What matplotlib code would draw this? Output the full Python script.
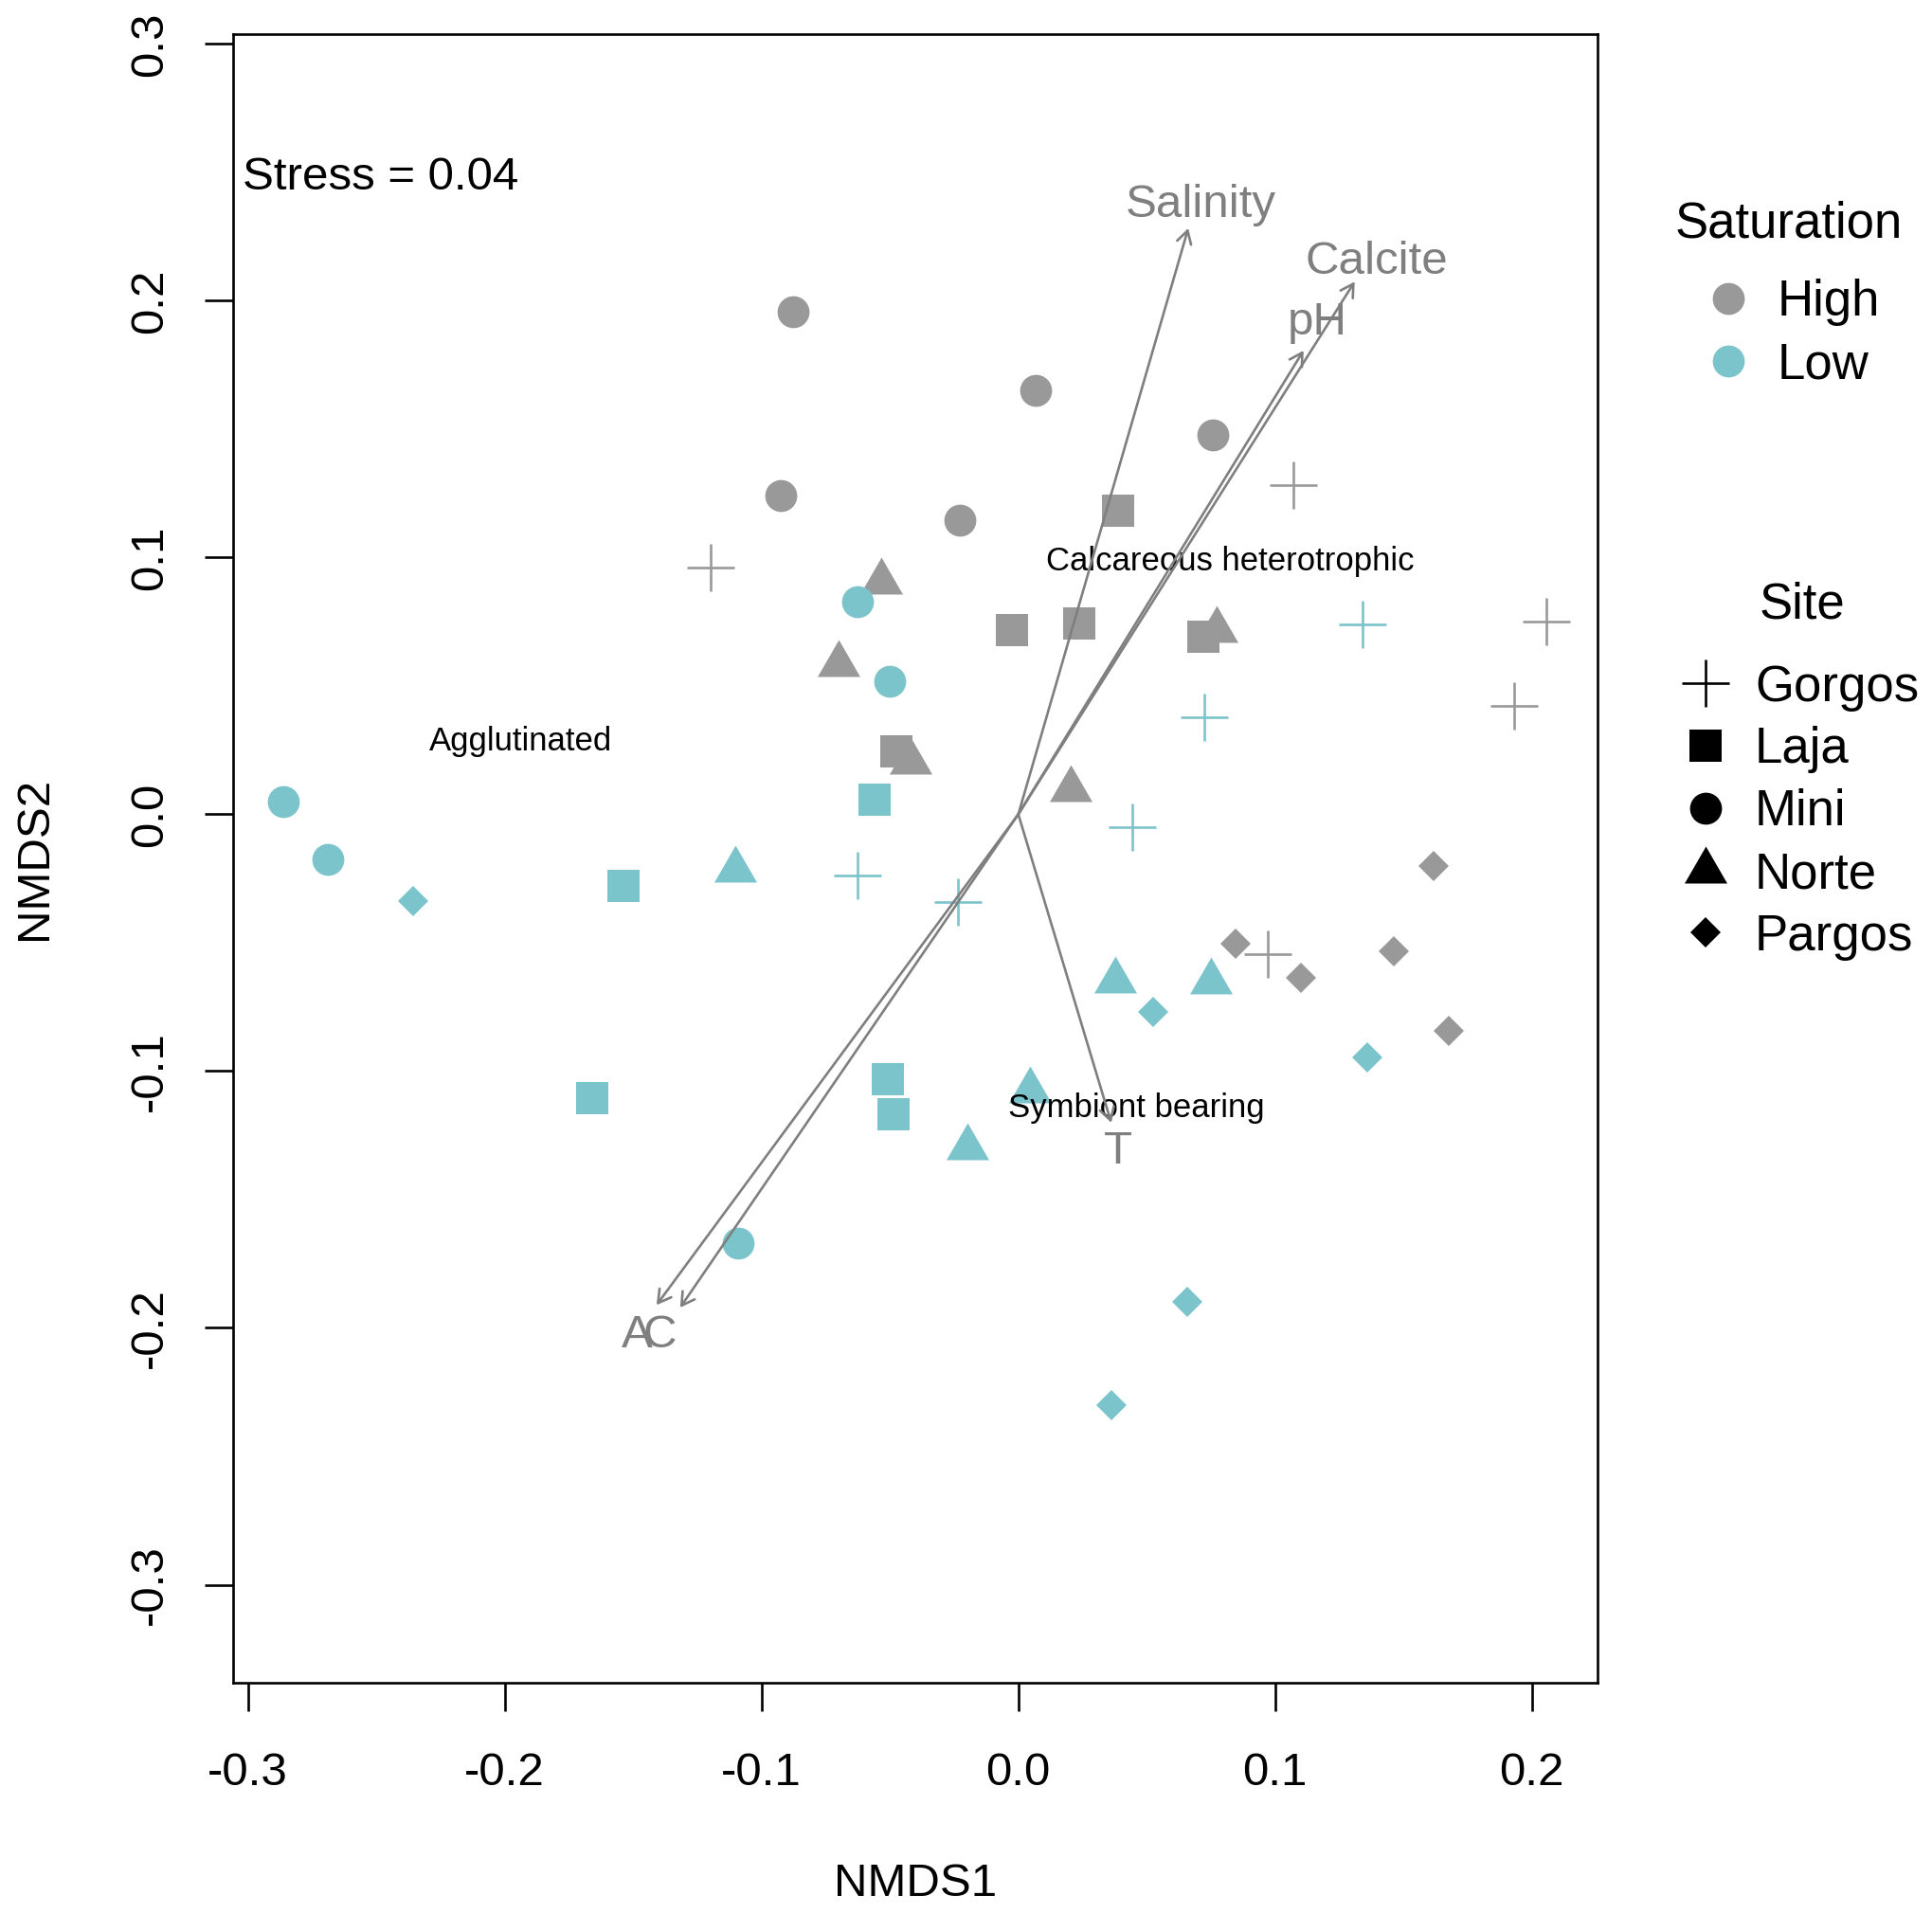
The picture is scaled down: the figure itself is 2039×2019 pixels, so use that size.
import matplotlib.pyplot as plt
from matplotlib.lines import Line2D

plt.rcParams['font.family'] = ['Liberation Sans', 'DejaVu Sans']
plt.rcParams['axes.unicode_minus'] = False

# NMDS site scores, high saturation samples
high_site = ['Mini'] * 5 + ['Norte'] * 5 + ['Laja'] * 5 + ['Gorgos'] * 5 + ['Pargos'] * 5
high_x = [-0.0876, -0.0927, -0.0227, 0.0066, 0.0759,
          -0.0533, -0.0699, -0.0421, 0.0203, 0.0771,
          0.0387, -0.0026, 0.0239, 0.0720, -0.0475,
          -0.1199, 0.1072, 0.2058, 0.1931, 0.0970,
          0.0845, 0.1100, 0.1462, 0.1616, 0.1676]
high_y = [0.1957, 0.1242, 0.1145, 0.1652, 0.1477,
          0.0906, 0.0586, 0.0206, 0.0099, 0.0719,
          0.1182, 0.0717, 0.0742, 0.0690, 0.0246,
          0.0962, 0.1283, 0.0750, 0.0423, -0.0544,
          -0.0504, -0.0638, -0.0534, -0.0203, -0.0842]

# low saturation samples
low_site = ['Mini'] * 5 + ['Laja'] * 5 + ['Norte'] * 5 + ['Gorgos'] * 5 + ['Pargos'] * 5
low_x = [-0.2861, -0.2688, -0.0627, -0.0499, -0.1090,
         -0.0559, -0.1536, -0.1659, -0.0510, -0.0485,
         -0.1103, 0.0378, 0.0752, 0.0044, -0.0197,
         0.1340, 0.0726, 0.0445, -0.0627, -0.0234,
         -0.2357, 0.0524, 0.1360, 0.0658, 0.0362]
low_y = [0.0049, -0.0175, 0.0827, 0.0517, -0.1669,
         0.0058, -0.0279, -0.1105, -0.1031, -0.1167,
         -0.0216, -0.0649, -0.0653, -0.1076, -0.1296,
         0.0739, 0.0378, -0.0049, -0.0240, -0.0342,
         -0.0338, -0.0770, -0.0946, -0.1899, -0.2300]

# envfit vectors
env_names = ['Salinity', 'Calcite', 'pH', 'T', 'A', 'C']
env_x = [0.0662, 0.1310, 0.1111, 0.0362, -0.1409, -0.1317]
env_y = [0.2282, 0.2074, 0.1806, -0.1201, -0.1911, -0.1921]
env_lab_x = [0.0709, 0.1397, 0.1165, 0.0390, -0.1484, -0.1396]
env_lab_y = [0.2326, 0.2106, 0.1868, -0.1361, -0.2075, -0.2075]

# functional group labels
grp_names = ['Agglutinated', 'Calcareous heterotrophic', 'Symbiont bearing']
grp_x = [-0.1937, 0.0826, 0.0460]
grp_y = [0.0249, 0.0950, -0.1180]

sites = ['Gorgos', 'Laja', 'Mini', 'Norte', 'Pargos']
sat_labels = ['High', 'Low']

GREY = '#999999'
CYAN = '#7CC4CC'
ARROW = '#7F7F7F'

# R style filled triangle (pch 17), centred on its centroid
tri = [(0, 1.5551), (1.3468, -0.7776), (-1.3468, -0.7776)]
mk = {'Gorgos': '+', 'Laja': 's', 'Mini': 'o', 'Norte': tri, 'Pargos': 'D'}
ms = {'Gorgos': 36, 'Laja': 24.3, 'Mini': 24.3, 'Norte': 37.4, 'Pargos': 16.8}


def mstyle(site, col):
    if site == 'Gorgos':
        return dict(marker='+', ms=ms[site], color=col, mew=1.9)
    return dict(marker=mk[site], ms=ms[site], color=col, mew=0)


fig = plt.figure(figsize=(20.4, 20.19), dpi=100)
ax = fig.add_axes([0.1206, 0.1206, 0.7059, 0.8617])

for xs, ys, ss, col in [(high_x, high_y, high_site, GREY), (low_x, low_y, low_site, CYAN)]:
    for s in sites:
        px = [x for x, t in zip(xs, ss) if t == s]
        py = [y for y, t in zip(ys, ss) if t == s]
        ax.plot(px, py, ls='none', **mstyle(s, col))

for name, x, y in zip(grp_names, grp_x, grp_y):
    ax.text(x, y, name, ha='center', va='baseline', fontsize=25, color='black')

for hx, hy in zip(env_x, env_y):
    ax.annotate('', xy=(hx, hy), xytext=(0, 0),
                arrowprops=dict(arrowstyle='->,head_length=0.95,head_width=0.55',
                                color=ARROW, lw=1.9, shrinkA=0, shrinkB=0,
                                mutation_scale=10))
for name, x, y in zip(env_names, env_lab_x, env_lab_y):
    ax.text(x, y, name, ha='center', va='baseline', fontsize=35.5, color=ARROW)

ax.text(-0.3022, 0.2432, 'Stress = 0.04', ha='left', va='baseline', fontsize=35.5)

ax.set_xlim(-0.3058, 0.2256)
ax.set_ylim(-0.3380, 0.3039)
xt = [-0.3, -0.2, -0.1, 0.0, 0.1, 0.2]
yt = [-0.3, -0.2, -0.1, 0.0, 0.1, 0.2, 0.3]
ax.set_xticks(xt, ['%.1f' % v for v in xt])
ax.set_yticks(yt, ['%.1f' % v for v in yt], rotation=90, va='center')
ax.tick_params(direction='out', length=21.6, width=1.9, labelsize=35.5)
ax.tick_params(axis='x', pad=31)
ax.tick_params(axis='y', pad=25)
for sp in ax.spines.values():
    sp.set_linewidth(1.9)

ax.set_xlabel('NMDS1', fontsize=35.5, va='center')
ax.set_ylabel('NMDS2', fontsize=35.5, va='center')
ax.xaxis.set_label_coords(0.5, -0.1225)
ax.yaxis.set_label_coords(-0.1456, 0.5)

# legends
sat_h = [Line2D([], [], ls='none', marker='o', ms=24.3, color=c, mew=0) for c in [GREY, CYAN]]
site_h = [Line2D([], [], ls='none', **mstyle(s, 'black')) for s in sites]
leg_kw = dict(loc='upper left', bbox_transform=fig.transFigure, frameon=False,
              fontsize=38, handlelength=1.3, handletextpad=0.335, labelspacing=0.30,
              borderpad=0, borderaxespad=0)
leg1 = ax.legend(sat_h, sat_labels, bbox_to_anchor=(0.8771, 0.8542), **leg_kw)
ax.add_artist(leg1)
ax.legend(site_h, sites, bbox_to_anchor=(0.8655, 0.6530), **leg_kw)
fig.text(0.9252, 0.876, 'Saturation', ha='center', va='baseline', fontsize=38)
fig.text(0.9324, 0.6766, 'Site', ha='center', va='baseline', fontsize=38)

fig.savefig('out.png', dpi=100)
